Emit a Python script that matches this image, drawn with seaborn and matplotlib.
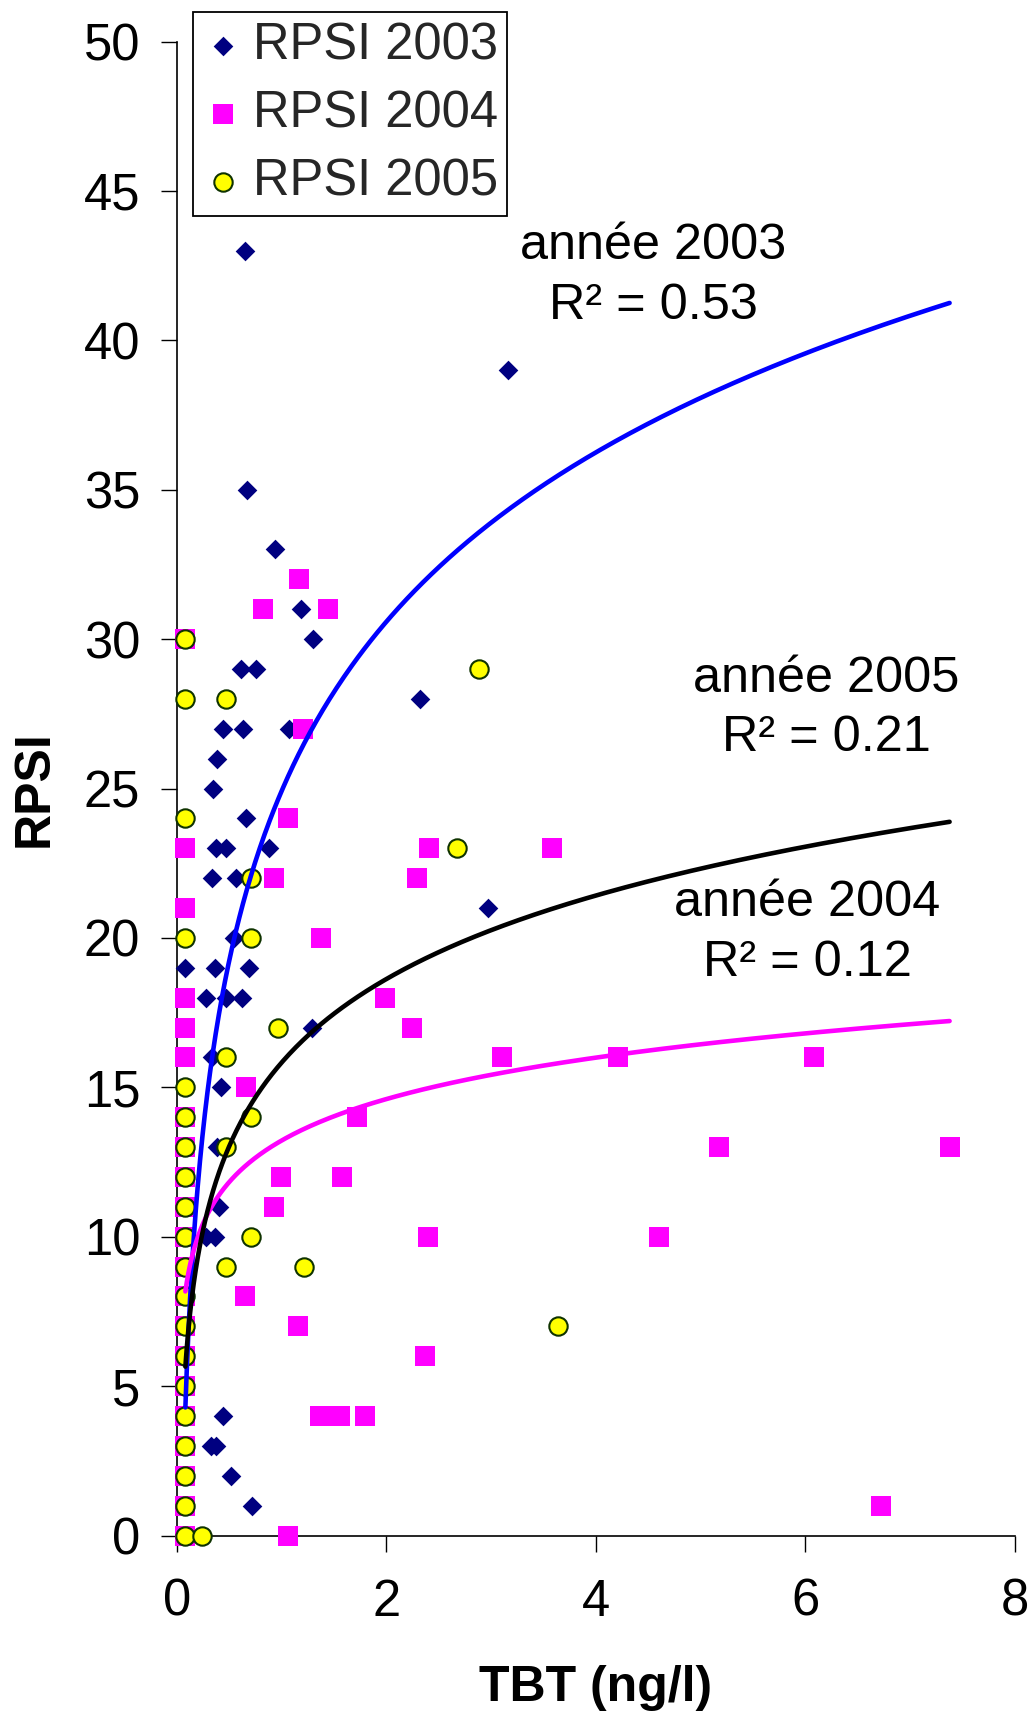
import numpy as np
import pandas as pd
import matplotlib
matplotlib.use("Agg")
import matplotlib.pyplot as plt
import seaborn as sns

# ---------------- data ----------------
x2003 = [0.65, 3.16, 0.67, 0.94, 1.18, 1.30, 0.61, 0.75, 2.32, 0.44, 0.63, 1.07,
         0.38, 0.34, 0.66, 0.37, 0.47, 0.88, 0.33, 0.56, 2.97, 0.54, 0.08, 0.36,
         0.69, 0.28, 0.47, 0.62, 1.29, 0.33, 0.42, 0.38, 0.40, 0.28, 0.36, 0.44,
         0.32, 0.37, 0.52, 0.72]
y2003 = [43, 39, 35, 33, 31, 30, 29, 29, 28, 27, 27, 27,
         26, 25, 24, 23, 23, 23, 22, 22, 21, 20, 19, 19,
         19, 18, 18, 18, 17, 16, 15, 13, 11, 10, 10, 4,
         3, 3, 2, 1]

x2004 = [1.17, 0.82, 1.44, 0.08, 1.20, 1.06, 0.08, 2.41, 3.58, 0.93, 2.29, 0.08,
         1.38, 0.08, 1.99, 0.08, 2.24, 0.08, 3.10, 4.21, 6.08, 0.66, 1.72, 5.18,
         7.38, 0.99, 1.58, 0.93, 2.40, 4.60, 0.65, 1.16, 2.37, 1.37, 1.56, 1.80,
         6.72, 1.06,
         0.08, 0.08, 0.08, 0.08, 0.08, 0.08, 0.08, 0.08, 0.08, 0.08, 0.08, 0.08,
         0.08, 0.08, 0.08]
y2004 = [32, 31, 31, 30, 27, 24, 23, 23, 23, 22, 22, 21,
         20, 18, 18, 17, 17, 16, 16, 16, 16, 15, 14, 13,
         13, 12, 12, 11, 10, 10, 8, 7, 6, 4, 4, 4,
         1, 0,
         14, 13, 12, 11, 10, 9, 8, 7, 6, 5, 4, 3,
         2, 1, 0]

x2005 = [0.08, 0.08, 0.47, 2.88, 0.08, 2.67, 0.71, 0.08, 0.71, 0.96, 0.47, 0.08,
         0.08, 0.71, 0.08, 0.47, 0.08, 0.08, 0.08, 0.71, 0.08, 0.47, 1.21, 0.08,
         0.08, 3.64, 0.08, 0.08, 0.08, 0.08, 0.08, 0.08, 0.08, 0.24]
y2005 = [30, 28, 28, 29, 24, 23, 22, 20, 20, 17, 16, 15,
         14, 14, 13, 13, 12, 11, 10, 10, 9, 9, 9, 8,
         7, 7, 6, 5, 4, 3, 2, 1, 0, 0]

series_labels = ["RPSI 2003", "RPSI 2004", "RPSI 2005"]
# logarithmic trend lines y = a*ln(x) + b
trend_a = [8.17, 2.00, 4.03]
trend_b = [24.92, 13.22, 15.83]
trend_names = ["année 2003", "année 2004", "année 2005"]
trend_r2 = ["0.53", "0.12", "0.21"]

xticks = [0, 2, 4, 6, 8]
yticks = [0, 5, 10, 15, 20, 25, 30, 35, 40, 45, 50]

# ---------------- styling ----------------
sns.set_theme(style="white")
plt.rcParams['font.family'] = ['Liberation Sans', 'DejaVu Sans']

W, H = 1032, 1713
fig = plt.figure(figsize=(W / 100, H / 100), dpi=100)
x0, x1, y0, y1 = 177, 1014.5, 1535.5, 41.5
ax = fig.add_axes([x0 / W, 1 - y0 / H, (x1 - x0) / W, (y0 - y1) / H])

# scatter series
sns.scatterplot(x=x2003, y=y2003, ax=ax, marker="D", s=100, color="#000080",
                linewidth=0, label=series_labels[0], clip_on=False, zorder=3)
sns.scatterplot(x=x2004, y=y2004, ax=ax, marker="s", s=200, color="#FF00FF",
                linewidth=0, label=series_labels[1], clip_on=False, zorder=4)
sns.scatterplot(x=x2005, y=y2005, ax=ax, marker="o", s=175, color="#FFFF00",
                edgecolor="#0f3300", linewidth=1.5, label=series_labels[2],
                clip_on=False, zorder=5)

# trend lines over the full data range
all_x = np.array(x2003 + x2004 + x2005)
xs = np.geomspace(all_x.min(), all_x.max(), 400)
line_colors = ["#0000FF", "#FF00FF", "#000000"]
for a, b, c in zip(trend_a, trend_b, line_colors):
    sns.lineplot(x=xs, y=a * np.log(xs) + b, ax=ax, color=c, linewidth=3.3,
                 legend=False, zorder=6, sort=False)

# annotations
ann_pos = [(4.55, 42.16), (6.02, 20.16), (6.20, 27.68)]
for name, r2, (tx, ty) in zip(trend_names, trend_r2, ann_pos):
    ax.text(tx, ty, f"{name}\nR² = {r2}", ha="center", va="center",
            multialignment="center", fontsize=36.3, linespacing=1.38,
            color="black", zorder=7)

ax.set_xlim(0, 8)
ax.set_ylim(0, 50)
ax.set_xticks(xticks)
ax.set_yticks(yticks)
ax.tick_params(axis="both", which="major", bottom=True, left=True,
               direction="out", length=11.5, width=1.0, color="black",
               labelsize=36.5, labelcolor="black")
ax.tick_params(axis="y", pad=15)
ax.tick_params(axis="x", pad=19)
for side in ["top", "right"]:
    ax.spines[side].set_visible(False)
for side in ["left", "bottom"]:
    ax.spines[side].set_color("black")
    ax.spines[side].set_linewidth(1.2)
ax.grid(False)
ax.set_facecolor("white")

ax.set_xlabel("TBT (ng/l)", fontsize=36, fontweight="bold", color="black")
ax.set_ylabel("RPSI", fontsize=36, fontweight="bold", color="black")
ax.xaxis.set_label_coords(0.5, -0.087)
ax.yaxis.set_label_coords(-0.143, 0.5)

leg = ax.legend(loc="upper left", bbox_to_anchor=(193 / W, 1 - 12 / H),
                bbox_transform=fig.transFigure, borderaxespad=0,
                fontsize=36.5, frameon=True, fancybox=False, shadow=False,
                framealpha=1, edgecolor="black", borderpad=0.18,
                handlelength=0.82, handletextpad=0.18, labelspacing=0.38,
                scatterpoints=1)
leg.get_frame().set_linewidth(1.3)
leg.set_zorder(10)

fig.savefig("out.png", dpi=100, facecolor="white")
